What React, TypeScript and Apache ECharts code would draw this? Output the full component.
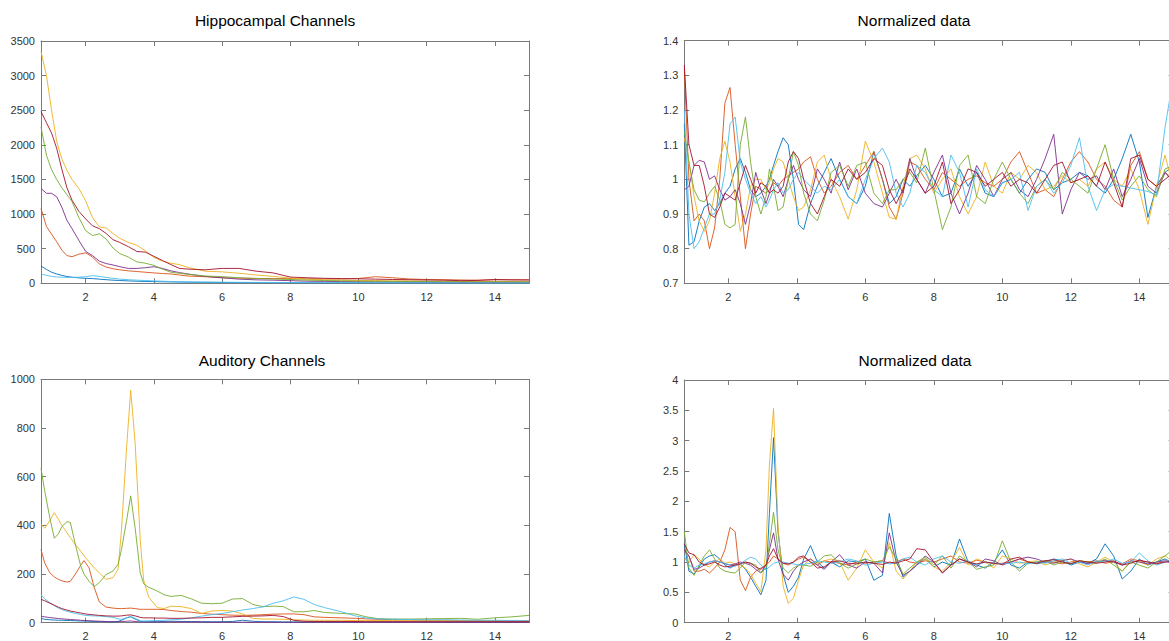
import React, { useEffect, useRef } from "react";
import * as echarts from "echarts";

const COLORS = ["#0072BD", "#D95319", "#EDB120", "#7E2F8E", "#77AC30", "#4DBEEE", "#A2142F"];
const X_TICKS = [2, 4, 6, 8, 10, 12, 14];
const FONT = "'Liberation Sans', Arial, Helvetica, sans-serif";
const AXIS = "#7a7a7a";
const LABEL = "#333333";

// ---- Hippocampal raw spectra ----
const HX = [0.69, 0.85, 1.0, 1.15, 1.3, 1.45, 1.6, 1.8, 2.0, 2.2,
  2.4, 2.6, 2.8, 3.0, 3.25, 3.5, 3.75, 4.0, 4.25, 4.5,
  4.75, 5.0, 5.5, 6.0, 6.5, 7.0, 7.5, 8.0, 8.5, 9,
  9.5, 10, 10.5, 11, 11.5, 12, 12.5, 13, 13.5, 14,
  14.5, 15];
const hipBlue = [250, 200, 160, 135, 115, 98, 88, 78, 72, 68,
  60, 52, 45, 40, 35, 30, 27, 24, 22, 20,
  18, 16, 14, 12, 11, 10, 9, 8, 8, 7,
  7, 7, 6, 6, 6, 6, 6, 5, 5, 5,
  5, 5];
const hipOrange = [1080, 820, 710, 600, 480, 400, 385, 420, 440, 380,
  280, 235, 210, 195, 180, 170, 160, 150, 142, 135,
  120, 105, 95, 80, 75, 70, 68, 67, 65, 62,
  62, 70, 95, 80, 62, 55, 52, 48, 45, 50,
  50, 50];
const hipYellow = [3350, 3000, 2500, 2050, 1800, 1630, 1500, 1370, 1190, 950,
  815, 800, 720, 650, 590, 550, 470, 375, 320, 290,
  270, 230, 175, 165, 145, 120, 100, 75, 60, 50,
  45, 40, 40, 35, 35, 30, 30, 28, 25, 25,
  25, 22];
const hipPurple = [1370, 1300, 1300, 1250, 1100, 910, 790, 620, 460, 400,
  320, 285, 265, 240, 215, 215, 225, 240, 215, 180,
  155, 135, 100, 80, 60, 50, 45, 38, 30, 28,
  25, 22, 20, 20, 18, 18, 16, 15, 15, 15,
  15, 15];
const hipGreen = [2260, 1850, 1640, 1500, 1380, 1280, 1180, 950, 760, 690,
  715, 640, 510, 430, 380, 310, 290, 260, 205, 160,
  145, 130, 105, 96, 80, 70, 62, 55, 45, 40,
  35, 32, 30, 28, 25, 25, 22, 22, 20, 20,
  20, 20];
const hipCyan = [135, 115, 100, 92, 88, 85, 85, 88, 95, 110,
  100, 85, 72, 60, 52, 45, 40, 35, 30, 26,
  23, 20, 18, 16, 14, 13, 12, 11, 10, 10,
  9, 9, 8, 8, 7, 7, 6, 6, 5, 5,
  5, 5];
const hipRed = [2480, 2320, 2170, 1950, 1650, 1380, 1200, 1040, 930, 830,
  790, 720, 630, 590, 530, 460, 450, 390, 330, 270,
  215, 205, 195, 215, 215, 175, 150, 90, 80, 72,
  68, 65, 60, 55, 52, 48, 45, 38, 42, 55,
  50, 48];

// ---- Auditory raw spectra ----
const AX = [0.69, 0.8, 0.95, 1.08, 1.2, 1.3, 1.45, 1.55, 1.7, 1.85,
  1.95, 2.1, 2.25, 2.4, 2.6, 2.8, 2.95, 3.05, 3.2, 3.32,
  3.45, 3.6, 3.7, 3.85, 4.1, 4.3, 4.5, 4.8, 5.1, 5.4,
  5.7, 6.0, 6.3, 6.6, 6.9, 7.2, 7.5, 7.8, 8.1, 8.4,
  8.7, 9.0, 9.5, 9.9, 10.2, 10.6, 11, 11.5, 12, 12.5,
  13, 13.5, 14, 14.5, 15];
const audBlue = [18, 14, 12, 11, 10, 10, 9, 9, 8, 7,
  7, 6, 5, 5, 4, 4, 5, 10, 20, 24,
  15, 6, 4, 4, 4, 5, 6, 5, 5, 4,
  4, 4, 5, 10, 6, 4, 4, 3, 3, 3,
  3, 3, 3, 3, 3, 3, 3, 3, 3, 3,
  3, 3, 3, 3, 3];
const audOrange = [300, 245, 205, 188, 178, 172, 167, 170, 200, 235,
  255, 225, 145, 85, 64, 60, 58, 58, 59, 60,
  58, 55, 55, 55, 55, 54, 50, 46, 43, 38,
  35, 33, 31, 30, 31, 33, 35, 36, 36, 33,
  24, 22, 20, 18, 16, 14, 12, 11, 10, 10,
  9, 8, 8, 7, 7];
const audYellow = [405, 388, 420, 452, 425, 400, 370, 350, 320, 295,
  275, 250, 225, 205, 178, 185, 220, 380, 720, 955,
  740, 340, 175, 105, 62, 58, 68, 66, 58, 38,
  48, 50, 48, 36, 18, 15, 15, 14, 12, 11,
  10, 10, 10, 9, 9, 9, 9, 8, 8, 8,
  8, 8, 8, 8, 8];
const audPurple = [27, 24, 21, 19, 17, 16, 14, 13, 12, 10,
  9, 8, 7, 6, 5, 4, 4, 5, 6, 7,
  5, 3, 3, 3, 3, 3, 3, 3, 3, 3,
  2, 2, 2, 2, 2, 2, 2, 2, 2, 2,
  2, 2, 2, 2, 2, 2, 2, 2, 2, 2,
  2, 2, 2, 2, 2];
const audGreen = [634, 540, 430, 347, 365, 395, 415, 412, 320, 235,
  200, 170, 148, 165, 198, 212, 240, 300, 420, 521,
  390, 205, 160, 145, 130, 115, 108, 112, 98, 80,
  78, 80, 97, 99, 75, 66, 68, 66, 45, 45,
  50, 42, 38, 36, 25, 16, 15, 15, 16, 17,
  18, 14, 20, 24, 30];
const audCyan = [114, 98, 82, 70, 60, 54, 47, 43, 38, 34,
  31, 29, 28, 27, 25, 22, 16, 14, 20, 26,
  18, 8, 7, 8, 9, 10, 12, 14, 20, 27,
  33, 38, 45, 52, 58, 65, 80, 90, 106, 96,
  75, 62, 45, 28, 20, 15, 14, 13, 12, 12,
  11, 10, 10, 9, 8];
const audRed = [96, 90, 80, 72, 64, 58, 52, 48, 44, 40,
  37, 34, 32, 30, 28, 27, 27, 28, 31, 32,
  28, 22, 20, 20, 19, 19, 18, 18, 19, 20,
  22, 22, 24, 26, 27, 28, 30, 25, 10, 6,
  5, 5, 5, 5, 4, 4, 4, 4, 4, 4,
  4, 4, 4, 4, 4];

// ---- Normalized data (shared frequency grid) ----
const NX = [0.715, 0.85, 1.0, 1.15, 1.3, 1.45, 1.6, 1.75, 1.9, 2.05,
  2.2, 2.35, 2.5, 2.65, 2.8, 2.95, 3.1, 3.2, 3.32, 3.45,
  3.6, 3.75, 3.9, 4.05, 4.2, 4.4, 4.6, 4.8, 5.0, 5.25,
  5.5, 5.75, 6.0, 6.25, 6.5, 6.7, 6.9, 7.1, 7.3, 7.5,
  7.75, 8.0, 8.25, 8.5, 8.75, 9.0, 9.25, 9.5, 9.75, 10.0,
  10.25, 10.5, 10.75, 11.0, 11.25, 11.5, 11.75, 12.0, 12.25, 12.5,
  12.75, 13.0, 13.25, 13.5, 13.75, 14.0, 14.25, 14.5, 14.75, 15.0];

const hnBlue = [1.16, 0.81, 0.82, 0.88, 0.92, 0.93, 0.91, 0.93, 0.96, 0.98,
  1.03, 1.06, 1.02, 0.97, 0.95, 0.96, 0.98, 1.0, 1.04, 1.08,
  1.12, 1.1, 1.0, 0.87, 0.855, 0.93, 0.98, 1.02, 1.06, 1.0,
  0.95, 0.93, 0.98, 1.08, 1.0, 0.93, 0.95, 1.0, 0.98, 1.01,
  1.04, 1.0, 0.95, 0.96, 1.03, 0.98, 1.02, 0.96, 0.95, 0.99,
  1.0, 0.96, 1.0, 1.03, 1.02, 0.97, 0.99, 1.0, 1.02, 1.01,
  0.98, 0.96, 1.0, 1.06, 1.13, 1.05, 0.89, 0.98, 1.02, 1.04];
const hnOrange = [1.32, 1.0, 0.88, 0.9, 0.88, 0.8, 0.86, 1.0, 1.22, 1.265,
  1.1, 0.95, 0.8, 0.9, 0.98, 0.97, 0.96, 0.97, 0.99, 0.98,
  1.0, 1.01, 1.02, 1.03, 1.05, 1.065, 1.0, 0.96, 0.98, 1.02,
  1.04, 1.0, 1.04, 1.08, 1.0, 0.92, 0.885, 0.96, 1.05, 1.04,
  1.0, 0.97, 1.02, 1.0, 0.98, 1.0, 1.01, 0.99, 0.98, 1.0,
  1.05, 1.08, 1.02, 0.96, 0.97, 0.95, 1.0, 1.05, 1.08, 1.05,
  1.0, 0.98, 0.94, 0.92, 1.04, 1.08, 1.0, 0.98, 1.02, 1.0];
const hnYellow = [1.12, 1.05, 0.95, 0.88, 0.85, 0.88, 0.96, 1.06, 1.11, 1.05,
  0.95, 0.85, 0.9, 0.98, 1.0, 1.0, 0.97, 0.99, 1.03, 1.06,
  1.05, 1.0, 0.95, 0.91, 0.92, 0.97, 1.05, 1.07, 1.0, 0.95,
  0.885, 0.97, 1.11, 1.05, 0.96, 0.89, 0.885, 0.98, 1.06, 1.07,
  1.03, 0.96, 1.0, 1.03, 0.95, 0.9, 0.95, 1.05, 0.98, 0.96,
  1.02, 1.0, 1.04, 1.02, 0.97, 0.98, 1.01, 0.99, 1.0, 0.98,
  1.03, 1.05, 1.0, 0.98, 1.03, 0.97, 0.87, 0.98, 1.07, 0.97];
const hnPurple = [0.97, 0.98, 1.04, 1.055, 1.05, 1.0, 1.01, 0.97, 0.94, 0.95,
  0.97, 0.93, 0.87, 0.93, 1.02, 0.97, 0.93, 0.96, 1.0, 0.98,
  0.95, 1.0, 1.04, 1.0, 0.97, 0.95, 1.03, 1.0, 0.96, 1.05,
  0.97, 1.03, 0.96, 0.93, 0.92, 0.96, 1.0, 0.96, 1.06, 1.0,
  0.96, 1.02, 1.07, 0.96, 0.9, 0.96, 1.04, 1.0, 0.95, 1.0,
  1.02, 0.97, 0.95, 1.0, 1.06, 1.13, 0.9, 0.97, 1.02, 1.0,
  1.01, 0.97, 1.03, 0.95, 1.0, 1.06, 0.98, 0.96, 1.02, 0.99];
const hnGreen = [1.14, 1.05, 0.97, 0.94, 0.935, 0.96, 0.98, 0.94, 0.87, 0.86,
  0.87, 1.1, 1.18, 1.05, 0.95, 0.9, 0.95, 1.03, 0.98, 0.91,
  0.92, 1.0, 1.08, 1.04, 0.96, 0.9, 0.88, 0.94, 1.02, 1.04,
  0.98, 1.04, 1.05, 0.96, 0.93, 0.97, 0.97, 1.0, 1.02, 0.99,
  1.09, 0.97, 0.855, 0.92, 1.04, 1.07, 0.95, 0.93, 1.0, 1.05,
  1.0, 0.96, 0.93, 0.98, 1.0, 0.97, 1.02, 1.0, 0.98, 0.96,
  1.03, 1.1, 1.0, 0.94, 0.98, 1.01, 0.97, 0.95, 1.03, 1.04];
const hnCyan = [1.2, 0.9, 0.8, 0.82, 0.86, 0.9, 0.9, 0.94, 1.02, 1.16,
  1.18, 1.05, 1.0, 0.96, 0.93, 0.95, 0.92, 0.94, 0.97, 0.99,
  0.96, 0.97, 1.0, 1.02, 1.0, 0.98, 0.96, 0.98, 0.97, 1.0,
  0.95, 0.93, 1.0, 1.06, 1.09, 1.05, 0.96, 0.92, 0.96, 1.04,
  1.02, 0.97, 0.95, 1.07, 1.02, 0.92, 1.03, 0.97, 0.95, 0.99,
  1.0, 1.02, 0.91, 0.98, 1.0, 0.96, 0.99, 1.04, 1.12, 0.98,
  0.91, 0.97, 0.985, 0.98, 0.975, 0.97, 0.965, 0.955, 1.15, 1.3];
const hnRed = [1.33, 1.1, 1.04, 1.04, 0.98, 0.9, 0.89, 0.92, 0.96, 0.95,
  0.94, 0.99, 1.04, 1.0, 0.96, 0.99, 0.98, 0.96, 0.97, 0.96,
  0.98, 1.05, 1.08, 1.06, 1.0, 0.93, 0.9, 0.95, 1.0, 0.98,
  1.03, 1.0, 1.02, 1.06, 1.04, 0.97, 0.93, 0.97, 1.03, 1.0,
  0.96, 0.98, 1.05, 0.93, 0.97, 1.03, 1.02, 0.98, 1.0, 1.02,
  0.98, 1.0, 0.99, 0.96, 1.0, 1.04, 1.05, 0.99, 1.0, 1.01,
  0.98, 1.05, 0.99, 0.92, 1.06, 1.07, 1.0, 0.98, 1.0, 1.02];

const anBlue = [1.3, 0.85, 0.8, 0.92, 1.05, 1.1, 1.12, 1.05, 0.95, 0.9,
  0.95, 0.97, 0.88, 0.75, 0.6, 0.46, 0.7, 1.8, 3.05, 1.5,
  0.8, 0.5, 0.6, 0.75, 1.05, 1.27, 1.0, 0.9, 1.0, 0.92,
  1.02, 1.0, 1.05, 0.7, 0.78, 1.8, 1.1, 0.75, 0.85, 0.95,
  1.05, 0.92, 1.0, 0.95, 1.38, 1.0, 0.95, 0.9, 1.0, 1.2,
  0.95, 0.9, 1.0, 0.97, 1.0, 1.05, 1.02, 0.95, 1.0, 0.98,
  1.05, 1.3, 1.1, 0.72, 0.85, 1.05, 0.95, 1.0, 1.05, 0.98];
const anOrange = [1.2, 1.1, 0.85, 0.85, 0.88, 0.82, 0.9, 1.0, 1.2, 1.57,
  1.5, 0.7, 0.53, 0.75, 0.85, 0.9, 0.95, 1.0, 1.1, 1.05,
  0.98, 0.95, 1.0, 1.05, 1.08, 1.0, 0.95, 1.02, 1.0, 0.98,
  0.95, 1.0, 0.98, 1.0, 1.02, 0.98, 1.0, 1.05, 1.0, 0.98,
  1.02, 1.0, 1.05, 1.1, 1.0, 0.98, 1.03, 1.0, 0.97, 0.98,
  1.0, 1.05, 1.0, 0.98, 1.02, 1.0, 0.97, 1.0, 1.02, 1.0,
  1.02, 0.98, 1.0, 0.97, 1.05, 1.02, 1.0, 0.98, 1.0, 1.02];
const anYellow = [1.05, 1.0, 1.12, 1.05, 0.95, 0.92, 1.0, 1.05, 0.98, 1.0,
  0.97, 0.95, 0.9, 0.8, 0.65, 0.51, 1.2, 2.6, 3.53, 1.6,
  0.6, 0.32, 0.4, 0.7, 0.95, 1.05, 0.98, 1.02, 1.05, 1.0,
  0.7, 0.9, 1.2, 1.0, 0.9, 1.32, 0.85, 0.72, 0.85, 1.0,
  1.05, 0.92, 0.85, 1.0, 1.24, 0.95, 1.05, 1.0, 0.9, 1.1,
  1.05, 0.98, 1.0, 1.02, 0.95, 1.0, 1.03, 1.05, 0.97, 0.92,
  1.0, 1.08, 1.0, 0.85, 1.02, 1.0, 0.95, 1.05, 1.1, 1.0];
const anPurple = [1.2, 1.1, 0.88, 0.9, 0.95, 1.0, 1.02, 1.0, 0.97, 0.95,
  0.97, 1.0, 0.98, 0.95, 0.88, 0.82, 0.95, 1.2, 1.48, 1.05,
  0.8, 0.7, 0.85, 0.95, 1.0, 1.05, 0.95, 0.88, 1.0, 1.12,
  0.95, 0.9, 1.0, 0.98, 0.82, 1.48, 1.0, 0.78, 0.85, 0.95,
  1.1, 1.0, 0.82, 0.95, 1.05, 1.0, 0.92, 1.05, 1.02, 0.95,
  1.0, 1.05, 1.08, 1.05, 1.0, 0.98, 1.02, 1.05, 1.0, 0.97,
  1.0, 1.03, 1.0, 0.95, 1.02, 1.0, 0.97, 1.0, 1.02, 1.0];
const anGreen = [1.5, 0.9, 0.78, 0.95, 1.1, 1.2, 1.05, 0.9, 0.85, 0.83,
  0.82, 0.9, 1.0, 0.98, 0.95, 0.82, 0.9, 1.3, 1.82, 1.2,
  0.9, 0.82, 0.9, 0.95, 0.95, 0.93, 1.0, 1.1, 1.12, 0.98,
  0.9, 0.97, 1.05, 1.0, 1.02, 1.25, 1.05, 0.8, 0.9, 1.0,
  1.08, 0.95, 1.1, 0.9, 1.1, 1.0, 0.88, 0.92, 0.95, 1.35,
  1.0, 0.85, 0.98, 1.0, 1.02, 0.95, 1.0, 0.97, 1.02, 1.0,
  0.98, 1.05, 0.95, 0.85, 1.0, 0.95, 0.9, 1.0, 1.1, 1.22];
const anCyan = [1.1, 0.95, 0.9, 0.95, 0.97, 1.0, 1.02, 1.0, 0.98, 0.95,
  0.93, 0.97, 1.03, 1.08, 1.05, 0.95, 0.87, 0.92, 0.98, 1.0,
  1.0, 0.98, 0.97, 0.95, 0.96, 0.98, 1.02, 1.0, 0.98, 1.0,
  1.05, 1.02, 0.95, 0.98, 1.0, 0.97, 0.98, 1.05, 1.08, 1.0,
  0.95, 1.05, 1.1, 1.0, 0.98, 1.02, 0.95, 1.0, 0.98, 0.97,
  0.98, 1.0, 0.97, 1.0, 0.98, 1.02, 1.05, 0.98, 1.0, 0.95,
  1.02, 1.0, 1.05, 0.98, 1.0, 1.15, 1.02, 0.95, 1.0, 1.05];
const anRed = [1.3, 1.15, 1.12, 1.0, 0.95, 0.97, 1.0, 0.95, 0.92, 0.93,
  0.95, 0.97, 1.0, 0.98, 0.92, 0.88, 0.95, 1.1, 1.22, 1.05,
  0.98, 0.97, 1.0, 1.08, 1.1, 1.0, 0.9, 0.92, 1.0, 1.02,
  0.98, 0.97, 1.0, 0.98, 0.96, 1.0, 0.98, 1.02, 1.05, 1.22,
  1.2, 1.0, 0.82, 0.95, 1.05, 1.0, 0.97, 1.0, 0.98, 0.96,
  1.05, 1.08, 1.0, 0.98, 1.02, 1.04, 1.0, 0.97, 1.02, 1.0,
  0.98, 1.0, 1.02, 0.95, 0.98, 1.03, 1.0, 0.97, 1.0, 1.0];

const PANEL_TITLES = ["Hippocampal Channels", "Normalized data", "Auditory Channels", "Normalized data"];

const PANELS = [
  { xs: HX, xmin: 0.69, y: [0, 3500, 500], lines: [hipBlue, hipOrange, hipYellow, hipPurple, hipGreen, hipCyan, hipRed] },
  { xs: NX, xmin: 0.715, y: [0.7, 1.4, 0.1], lines: [hnBlue, hnOrange, hnYellow, hnPurple, hnGreen, hnCyan, hnRed] },
  { xs: AX, xmin: 0.69, y: [0, 1000, 200], lines: [audBlue, audOrange, audYellow, audPurple, audGreen, audCyan, audRed] },
  { xs: NX, xmin: 0.715, y: [0, 4, 0.5], lines: [anBlue, anOrange, anYellow, anPurple, anGreen, anCyan, anRed] },
];

const GRIDS = [
  { left: 41, top: 41, width: 488, height: 242.3 },
  { left: 684.3, top: 40.7, width: 489.3, height: 242.6 },
  { left: 41, top: 379.3, width: 488, height: 243.4 },
  { left: 684.3, top: 380, width: 489.3, height: 242.7 },
];

const TITLE_POS = [[275, 20], [914, 20], [262, 360], [915, 360]];

const fmt = (v: number) => String(parseFloat(Number(v).toFixed(4)));

function buildOption() {
  const xAxis: any[] = [];
  const yAxis: any[] = [];
  const series: any[] = [];
  PANELS.forEach((p, gi) => {
    const lineCommon = { show: true, onZero: false, lineStyle: { color: AXIS, width: 1 } };
    const xCommon = {
      type: "value", gridIndex: gi, min: p.xmin, max: 15,
      splitLine: { show: false }, axisLine: lineCommon,
      axisTick: { show: true, inside: true, length: 5, customValues: X_TICKS, lineStyle: { color: AXIS, width: 1 } },
    };
    xAxis.push({ ...xCommon, position: "bottom",
      axisLabel: { show: true, customValues: X_TICKS, formatter: fmt, color: LABEL, fontSize: 11, fontFamily: FONT, margin: 8 } });
    xAxis.push({ ...xCommon, position: "top", axisLabel: { show: false } });
    const yCommon = {
      type: "value", gridIndex: gi, min: p.y[0], max: p.y[1], interval: p.y[2],
      splitLine: { show: false }, axisLine: lineCommon,
      axisTick: { show: true, inside: true, length: 5, lineStyle: { color: AXIS, width: 1 } },
    };
    yAxis.push({ ...yCommon, position: "left",
      axisLabel: { show: true, formatter: fmt, color: LABEL, fontSize: 11, fontFamily: FONT, margin: 6 } });
    yAxis.push({ ...yCommon, position: "right", axisLabel: { show: false } });
    p.lines.forEach((ys, si) => {
      series.push({
        type: "line", xAxisIndex: 2 * gi, yAxisIndex: 2 * gi,
        data: p.xs.map((x, i) => [x, ys[i]]),
        showSymbol: false, symbol: "none", silent: true,
        lineStyle: { width: 1, color: COLORS[si], opacity: 0.9 }, itemStyle: { color: COLORS[si] },
        z: 2 + si,
      });
    });
  });
  const graphic = PANEL_TITLES.map((t, i) => ({
    type: "text", x: TITLE_POS[i][0], y: TITLE_POS[i][1], silent: true,
    style: { text: t, fill: "#000", fontSize: 15.5, fontFamily: FONT, textAlign: "center", textVerticalAlign: "middle" },
  }));
  return { animation: false, backgroundColor: "#ffffff", grid: GRIDS, xAxis, yAxis, series, graphic };
}

export default function App() {
  const ref = useRef<HTMLDivElement>(null);
  useEffect(() => {
    if (!ref.current) return;
    const chart = echarts.init(ref.current, null, { renderer: "svg" });
    chart.setOption(buildOption() as any);
    return () => chart.dispose();
  }, []);
  return (
    <div style={{ position: "fixed", left: 0, top: 0, width: 1169, height: 641, overflow: "hidden", background: "#fff" }}>
      <div ref={ref} style={{ width: 1180, height: 660 }} />
    </div>
  );
}
